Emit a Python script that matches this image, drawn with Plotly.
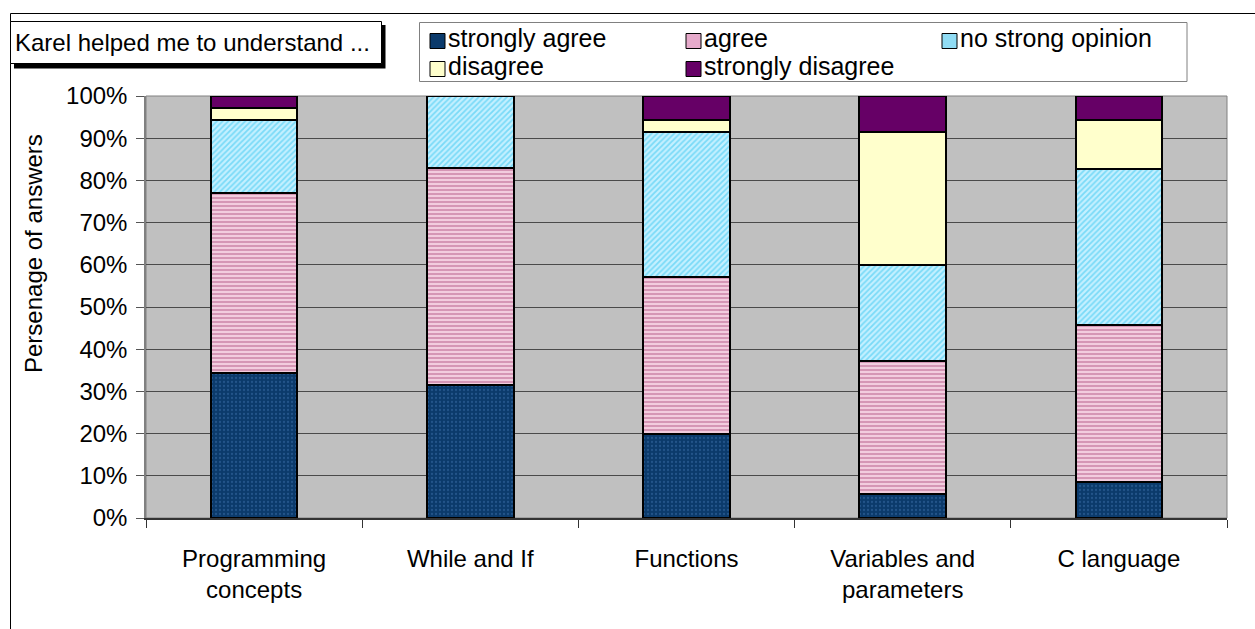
import plotly.graph_objects as go

# ---------------- data (percent of answers) ----------------
categories = ["Programming<br>concepts", "While and If", "Functions",
              "Variables and<br>parameters", "C language"]
strongly_agree = [34.3, 31.4, 20.0, 5.7, 8.6]
agree = [42.8, 51.5, 37.1, 31.4, 37.1]
no_strong_opinion = [17.1, 17.1, 34.3, 22.9, 37.1]
disagree = [2.9, 0.0, 2.9, 31.4, 11.4]
strongly_disagree = [2.9, 0.0, 5.7, 8.6, 5.8]
series_names = ["strongly agree", "agree", "no strong opinion", "disagree", "strongly disagree"]
y_ticks = [0, 10, 20, 30, 40, 50, 60, 70, 80, 90, 100]
y_tick_labels = [f"{v}%" for v in y_ticks]
title_text = "Karel helped me to understand ..."
y_title = "Persenage of answers"

# ---------------- styles ----------------
FONT = "Liberation Sans, Arial, sans-serif"
W_PX, H_PX = 1255, 629
L, R, T, B = 146, 1227, 96, 518   # plot area in pixels
PW, PH = R - L, B - T


def X(px):
    return (px - L) / PW


def Y(py):
    return (B - py) / PH


styles = [
    dict(color="#0B3A6B", pattern=dict(shape=".", fgcolor="#3A6EA8", bgcolor="#0B3A6B", size=4, solidity=0.25)),
    dict(color="#E0A0C0", pattern=dict(shape="-", fgcolor="#B8608C", bgcolor="#F2CCDE", size=4, solidity=0.5)),
    dict(color="#90DCF4", pattern=dict(shape="/", fgcolor="#2EC4F0", bgcolor="#C4F0FF", size=4, solidity=0.45)),
    dict(color="#FFFFCC"),
    dict(color="#660066"),
]
legend_colors = ["#0B3A6B", "#E6AACB", "#90DCF4", "#FFFFCC", "#660066"]

fig = go.Figure()
for name, vals, st in zip(series_names,
                          [strongly_agree, agree, no_strong_opinion, disagree, strongly_disagree],
                          styles):
    marker = dict(color=st["color"], line=dict(color="black", width=2))
    if "pattern" in st:
        marker["pattern"] = st["pattern"]
    fig.add_trace(go.Bar(x=categories, y=vals, name=name, marker=marker, showlegend=False))

shapes = []
# plot area border (gray)
shapes.append(dict(type="rect", xref="paper", yref="paper", x0=0, y0=0, x1=1, y1=1,
                   line=dict(color="#808080", width=1), layer="below"))
# outer chart border (cropped at right and bottom)
shapes.append(dict(type="rect", xref="paper", yref="paper", x0=X(10.5), y0=Y(13.5), x1=X(1270), y1=Y(645),
                   line=dict(color="black", width=1)))
# title box with shadow
shapes.append(dict(type="rect", xref="paper", yref="paper", x0=X(14), y0=Y(25), x1=X(385.5), y1=Y(68.5),
                   fillcolor="black", line=dict(width=0)))
shapes.append(dict(type="rect", xref="paper", yref="paper", x0=X(10.5), y0=Y(21.5), x1=X(381.5), y1=Y(63.5),
                   fillcolor="white", line=dict(color="black", width=1)))
# legend box
shapes.append(dict(type="rect", xref="paper", yref="paper", x0=X(419.5), y0=Y(22.5), x1=X(1187), y1=Y(81.5),
                   fillcolor="white", line=dict(color="#808080", width=1)))

annotations = []
annotations.append(dict(text=title_text, xref="paper", yref="paper", x=X(13), y=Y(43),
                        xanchor="left", yanchor="middle", showarrow=False,
                        font=dict(family=FONT, size=24, color="black")))
annotations.append(dict(text=y_title, xref="paper", yref="paper", x=X(33), y=Y(254),
                        xanchor="center", yanchor="middle", textangle=-90, showarrow=False,
                        font=dict(family=FONT, size=24, color="black")))

# manual legend: (column x, row y)
leg_pos = [(430, 38), (686, 38), (942, 38), (430, 66), (686, 66)]
for name, col, (lx, ly) in zip(series_names, legend_colors, leg_pos):
    shapes.append(dict(type="rect", xref="paper", yref="paper", x0=X(lx), y0=Y(ly + 3 - 7.5),
                       x1=X(lx + 15), y1=Y(ly + 3 + 7.5), fillcolor=col,
                       line=dict(color="black", width=1)))
    annotations.append(dict(text=name, xref="paper", yref="paper", x=X(lx + 17), y=Y(ly),
                            xanchor="left", yanchor="middle", showarrow=False, borderpad=0,
                            font=dict(family=FONT, size=25, color="black")))

fig.update_layout(
    barmode="stack",
    bargap=0.6,
    width=W_PX, height=H_PX,
    margin=dict(l=L, r=W_PX - R, t=T, b=H_PX - B, pad=0),
    paper_bgcolor="white",
    plot_bgcolor="#C0C0C0",
    font=dict(family=FONT, size=24, color="black"),
    shapes=shapes,
    annotations=annotations,
    xaxis=dict(showgrid=False, showline=True, linecolor="#333333", linewidth=1.5,
               ticks="outside", tickson="boundaries", ticklen=8, tickcolor="#333333",
               ticklabelstandoff=18,
               tickfont=dict(family=FONT, size=24, color="black"), fixedrange=True),
    yaxis=dict(range=[0, 100], tickvals=y_ticks, ticktext=y_tick_labels,
               showgrid=True, gridcolor="#4A4A4A", gridwidth=1.2,
               showline=True, linecolor="#808080", linewidth=1.5,
               ticks="outside", ticklen=8, tickcolor="#555555",
               ticklabelstandoff=4,
               tickfont=dict(family=FONT, size=24, color="black"), zeroline=False, fixedrange=True),
)

fig.write_html("out.html")
